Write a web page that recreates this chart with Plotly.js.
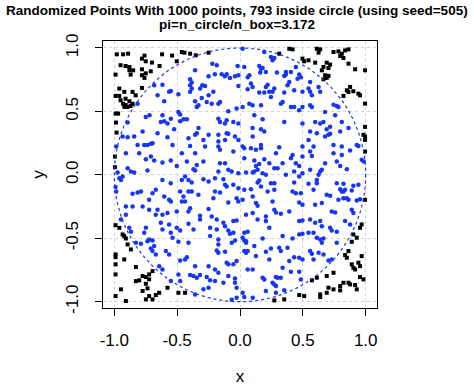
<!DOCTYPE html>
<html><head><meta charset="utf-8">
<script src="https://cdn.plot.ly/plotly-3.0.1.min.js"></script>
<style>html,body{margin:0;padding:0;background:#fff}#chart{width:474px;height:391px}</style>
</head><body><div id="chart"></div>
<script>
// Points outside the unit circle (black squares)
var outX = [-0.98,-0.93,-0.89,-0.76,-0.62,-0.54,-0.78,-0.95,-0.91,-0.88,-0.75,-0.70,-0.64,-0.88,-0.85,-0.78,-0.71,-0.99,-0.87,-0.78,-0.75,-0.76,-0.96,-0.78,-0.92,-0.855,-0.99,-0.96,-0.83,-0.95,-0.91,-0.88,-0.93,-0.91,-0.855,-0.92,-0.895,-0.87,-0.99,-0.97,-0.987,
 -0.503,-0.463,-0.442,-0.397,-0.352,-0.25,
 0.312,0.392,0.418,0.497,0.51,
 0.611,0.638,0.625,0.744,0.783,0.81,0.836,0.863,0.797,0.823,0.545,0.598,0.69,0.717,0.664,0.704,0.651,0.863,0.916,0.995,0.677,0.69,0.664,0.704,0.876,0.85,0.863,0.902,0.942,0.955,0.823,0.995,0.995,
 -0.982,-0.995,-0.995,
 0.982,0.995,0.995,0.995,0.995,
 -0.99,-0.96,-0.934,-0.921,-0.908,-0.894,-0.868,-0.99,-0.99,-0.921,-0.99,-0.828,-0.696,-0.723,-0.99,-0.775,-0.749,-0.723,-0.828,-0.802,-0.749,-0.736,-0.947,-0.775,-0.577,-0.67,-0.643,-0.723,-0.99,-0.749,-0.696,-0.908,
 -0.49,-0.437,
 0.273,0.352,0.471,0.511,
 0.968,0.955,0.902,0.929,0.889,0.863,0.836,0.85,0.968,0.889,0.902,0.916,0.942,0.955,0.744,0.69,0.611,0.572,0.955,0.982,0.823,0.863,0.876,0.916,0.797,0.704,0.744,0.797,0.929,0.69,0.638,0.638];
var outY = [0.95,0.95,0.955,0.94,0.95,0.94,0.916,0.864,0.858,0.85,0.895,0.885,0.858,0.824,0.824,0.832,0.816,0.79,0.79,0.785,0.80,0.764,0.68,0.685,0.654,0.654,0.622,0.622,0.627,0.588,0.60,0.58,0.56,0.55,0.56,0.535,0.535,0.543,0.483,0.483,0.412,
 0.895,0.968,0.963,0.955,0.942,0.963,
 0.955,0.994,0.989,0.916,0.895,
 0.994,0.989,0.963,0.968,0.973,0.955,0.981,0.989,0.937,0.921,0.903,0.884,0.884,0.869,0.85,0.842,0.824,0.876,0.832,0.824,0.785,0.764,0.753,0.78,0.693,0.666,0.654,0.659,0.64,0.627,0.622,0.561,0.378,
 0.333,0.144,0.06,
 0.315,0.302,0.275,0.183,-0.197,
 -0.397,-0.418,-0.47,-0.483,-0.502,-0.549,-0.588,-0.628,-0.649,-0.667,-0.706,-0.727,-0.759,-0.785,-0.785,-0.798,-0.806,-0.824,-0.838,-0.832,-0.859,-0.895,-0.903,-0.916,-0.89,-0.948,-0.93,-0.956,-0.956,-0.982,-0.982,-0.995,
 -0.93,-0.93,
 -0.99,-0.982,-0.948,-0.956,
 -0.391,-0.418,-0.47,-0.496,-0.528,-0.601,-0.633,-0.654,-0.641,-0.706,-0.733,-0.746,-0.693,-0.72,-0.772,-0.798,-0.811,-0.832,-0.806,-0.824,-0.851,-0.851,-0.864,-0.869,-0.877,-0.89,-0.903,-0.911,-0.903,-0.93,-0.943,-0.964];

// Points inside the unit circle (blue dots)
var inX = [-0.683,-0.617,-0.55,-0.656,-0.564,-0.603,-0.815,-0.72,-0.75,-0.617,-0.63,-0.603,-0.577,-0.55,-0.894,-0.524,
 -0.357,-0.22,-0.185,-0.019,-0.25,-0.20,-0.146,-0.12,-0.106,-0.04,-0.013,-0.08,-0.397,-0.384,-0.397,-0.384,-0.30,-0.278,-0.317,-0.013,-0.397,-0.49,-0.212,-0.25,-0.305,-0.357,-0.265,-0.225,-0.172,-0.159,-0.344,-0.331,-0.49,-0.476,-0.45,-0.423,-0.476,-0.027,-0.093,-0.172,-0.159,-0.12,-0.106,-0.053,-0.013,-0.33,
 0.021,0.193,0.246,0.259,0.273,0.034,0.153,0.167,0.18,0.206,0.161,0.294,0.074,0.061,0.365,0.405,0.365,0.352,0.444,0.471,0.458,0.484,0.392,0.378,0.087,0.10,0.061,0.22,0.206,0.273,0.259,0.233,0.153,0.193,0.352,0.431,0.497,0.246,0.339,0.325,0.074,0.10,0.021,0.167,0.405,0.431,0.497,0.471,0.114,0.18,0.352,0.497,0.10,0.167,
 0.558,0.625,0.545,0.558,0.638,0.572,0.558,0.572,0.744,0.77,0.783,0.677,0.757,0.598,0.638,0.664,0.717,0.81,0.863,0.69,
 -0.934,-0.894,-0.842,-0.775,-0.656,-0.577,-0.985,-0.815,-0.762,-0.736,-0.709,-0.696,-0.537,-0.908,-0.802,-0.709,-0.749,-0.683,-0.617,-0.551,-0.894,-0.868,-0.842,-0.974,-0.96,-0.947,-0.934,-0.736,-0.617,-0.551,-0.99,-0.855,-0.815,-0.788,-0.696,-0.67,-0.985,-0.603,-0.564,-0.55,-0.723,-0.775,-0.908,-0.855,-0.723,-0.656,-0.617,-0.67,-0.577,-0.908,
 -0.41,-0.357,-0.344,-0.25,-0.172,-0.106,-0.093,-0.04,-0.013,-0.291,-0.172,-0.119,-0.397,-0.278,-0.172,-0.159,-0.463,-0.357,-0.053,-0.423,-0.344,-0.291,-0.159,-0.119,-0.503,-0.37,-0.357,-0.172,-0.093,-0.066,-0.013,-0.437,-0.41,-0.463,-0.384,-0.291,-0.25,-0.199,-0.132,-0.119,-0.106,-0.053,-0.013,-0.476,-0.41,-0.384,-0.199,-0.159,-0.45,-0.331,-0.212,-0.463,-0.437,-0.093,-0.027,-0.013,-0.397,-0.41,-0.25,-0.503,-0.318,-0.225,
 0.101,0.193,0.021,0.034,0.087,0.127,0.167,0.167,0.312,0.418,0.405,0.286,0.497,0.497,0.034,0.114,0.193,0.153,0.127,0.233,0.339,0.444,0.471,0.048,0.101,0.114,0.14,0.18,0.206,0.273,0.299,0.365,0.431,0.497,0.153,0.14,0.471,0.431,0.246,0.273,0.167,0.034,0.087,0.22,0.273,0.418,0.444,0.484,0.101,0.021,0.259,0.127,0.14,0.471,0.497,0.273,0.286,0.392,0.048,0.101,0.206,0.325,
 0.558,0.611,0.677,0.704,0.717,0.797,0.545,0.585,0.744,0.81,0.876,0.929,0.942,0.744,0.558,0.572,0.81,0.77,0.677,0.797,0.968,0.985,0.651,0.638,0.625,0.558,0.611,0.85,0.611,0.545,0.77,0.823,0.902,0.942,0.797,0.81,0.823,0.836,0.889,0.585,0.69,0.717,0.783,0.823,0.85,0.863,0.929,0.955,0.598,0.651,0.73,0.757,0.889,0.902,
 -0.947,-0.881,-0.868,-0.828,-0.788,-0.736,-0.723,-0.696,-0.683,-0.709,-0.696,-0.67,-0.762,-0.749,-0.63,-0.617,-0.564,-0.551,-0.537,-0.59,-0.564,-0.643,-0.617,-0.55,
 -0.41,-0.318,-0.185,-0.132,-0.053,-0.027,-0.503,-0.476,-0.37,-0.238,-0.185,-0.119,-0.093,-0.08,-0.053,-0.49,-0.41,-0.238,-0.172,-0.172,-0.066,-0.04,-0.185,-0.172,-0.119,-0.423,-0.437,-0.476,-0.106,-0.093,-0.357,-0.25,-0.199,-0.172,-0.053,-0.027,-0.49,-0.397,-0.37,-0.344,-0.318,-0.265,-0.238,-0.093,-0.04,-0.476,-0.199,-0.132,-0.04,-0.027,-0.291,-0.25,-0.357,-0.027,-0.066,
 0.14,0.206,0.471,0.497,0.233,0.034,0.061,0.021,0.034,0.048,0.048,0.18,0.339,0.471,0.497,0.418,0.114,0.246,0.312,0.325,0.378,0.034,0.048,0.061,0.206,0.127,0.233,0.392,0.431,0.471,0.497,0.061,0.101,0.339,0.405,0.471,0.18,0.193,0.286,0.299,0.325,0.484,0.259,0.273,0.286,0.206,0.286,0.352,0.021,0.034,0.101,
 0.558,0.598,0.638,0.651,0.545,0.585,0.717,0.73,0.77,0.836,0.876,0.611,0.638,0.664,0.651,0.77,0.558,0.572,0.625,0.664,0.704,0.73,0.585];
var inY = [0.706,0.71,0.66,0.627,0.654,0.58,0.56,0.47,0.456,0.47,0.417,0.422,0.404,0.443,0.412,0.36,
 0.824,0.876,0.863,0.858,0.777,0.792,0.792,0.777,0.792,0.777,0.785,0.764,0.753,0.727,0.706,0.68,0.706,0.70,0.68,0.70,0.654,0.635,0.654,0.627,0.606,0.58,0.575,0.56,0.56,0.575,0.535,0.548,0.496,0.475,0.438,0.438,0.422,0.522,0.501,0.443,0.417,0.404,0.43,0.417,0.404,0.37,
 0.994,0.968,0.929,0.903,0.92,0.85,0.858,0.837,0.842,0.811,0.806,0.806,0.785,0.77,0.811,0.811,0.79,0.78,0.85,0.79,0.758,0.77,0.732,0.706,0.72,0.693,0.674,0.711,0.693,0.68,0.654,0.654,0.648,0.648,0.648,0.666,0.654,0.614,0.575,0.561,0.561,0.548,0.535,0.548,0.535,0.535,0.535,0.509,0.47,0.438,0.417,0.404,0.37,0.36,
 0.732,0.693,0.68,0.654,0.654,0.627,0.548,0.535,0.553,0.543,0.535,0.496,0.47,0.417,0.404,0.417,0.378,0.417,0.37,0.36,
 0.302,0.296,0.302,0.341,0.328,0.296,0.223,0.236,0.236,0.236,0.244,0.249,0.236,0.17,0.17,0.144,0.123,0.113,0.097,0.113,0.052,0.026,0.018,0.018,-0.027,-0.04,-0.013,0.034,-0.04,-0.066,-0.097,-0.15,-0.139,-0.132,-0.145,-0.118,-0.132,-0.171,-0.197,-0.21,-0.197,-0.25,-0.25,-0.25,-0.276,-0.276,-0.315,-0.315,-0.302,-0.315,
 0.288,0.315,0.328,0.315,0.315,0.328,0.323,0.302,0.275,0.275,0.262,0.275,0.228,0.223,0.223,0.197,0.17,0.17,0.183,0.105,0.078,0.105,0.092,0.092,0.07,0.044,0.034,0.026,0.039,0.026,0.013,-0.013,-0.04,-0.04,-0.061,-0.034,-0.053,-0.027,-0.034,-0.079,-0.092,-0.079,-0.105,-0.132,-0.132,-0.132,-0.132,-0.139,-0.171,-0.158,-0.184,-0.21,-0.21,-0.218,-0.184,-0.21,-0.263,-0.289,-0.27,-0.289,-0.323,-0.328,
 0.302,0.341,0.223,0.21,0.21,0.197,0.236,0.21,0.217,0.157,0.131,0.17,0.223,0.144,0.131,0.113,0.123,0.086,0.07,0.092,0.092,0.092,0.07,0.018,0.018,0.026,0.039,0.013,0.0,0.052,0.052,0.0,0.026,0.013,-0.045,-0.061,-0.013,-0.061,-0.066,-0.066,-0.092,-0.118,-0.113,-0.132,-0.118,-0.132,-0.145,-0.145,-0.171,-0.197,-0.21,-0.223,-0.244,-0.218,-0.236,-0.276,-0.297,-0.289,-0.315,-0.302,-0.328,-0.307,
 0.341,0.328,0.302,0.315,0.323,0.341,0.275,0.223,0.236,0.223,0.191,0.236,0.228,0.17,0.183,0.149,0.157,0.105,0.092,0.07,0.118,0.105,0.039,0.026,0.0,0.039,-0.04,0.044,-0.066,-0.071,-0.066,-0.071,-0.087,-0.079,-0.113,-0.132,-0.132,-0.118,-0.124,-0.118,-0.158,-0.166,-0.197,-0.184,-0.184,-0.197,-0.202,-0.192,-0.236,-0.223,-0.289,-0.297,-0.276,-0.302,
 -0.352,-0.418,-0.449,-0.536,-0.544,-0.523,-0.51,-0.518,-0.562,-0.58,-0.601,-0.628,-0.457,-0.418,-0.378,-0.431,-0.391,-0.457,-0.496,-0.601,-0.628,-0.72,-0.746,-0.838,
 -0.386,-0.352,-0.352,-0.378,-0.365,-0.36,-0.418,-0.439,-0.431,-0.418,-0.431,-0.405,-0.439,-0.465,-0.457,-0.528,-0.536,-0.483,-0.51,-0.549,-0.536,-0.518,-0.596,-0.614,-0.607,-0.649,-0.667,-0.675,-0.693,-0.706,-0.72,-0.72,-0.746,-0.772,-0.706,-0.68,-0.785,-0.79,-0.798,-0.811,-0.79,-0.806,-0.832,-0.798,-0.817,-0.838,-0.838,-0.851,-0.851,-0.89,-0.903,-0.89,-0.943,-0.969,-0.985,
 -0.352,-0.365,-0.365,-0.36,-0.418,-0.457,-0.449,-0.496,-0.518,-0.523,-0.536,-0.502,-0.483,-0.47,-0.465,-0.502,-0.562,-0.58,-0.575,-0.601,-0.575,-0.601,-0.614,-0.601,-0.607,-0.641,-0.667,-0.68,-0.649,-0.654,-0.667,-0.746,-0.746,-0.733,-0.764,-0.764,-0.811,-0.825,-0.806,-0.811,-0.811,-0.825,-0.851,-0.864,-0.877,-0.916,-0.93,-0.911,-0.93,-0.964,-0.969,
 -0.352,-0.378,-0.365,-0.405,-0.457,-0.457,-0.418,-0.439,-0.449,-0.365,-0.391,-0.496,-0.51,-0.502,-0.536,-0.536,-0.601,-0.622,-0.614,-0.628,-0.675,-0.667,-0.667];

var tickVals = [-1.0, -0.5, 0.0, 0.5, 1.0];
var tickText = ["-1.0", "-0.5", "0.0", "0.5", "1.0"];
var titleLine1 = "Randomized Points With 1000 points, 793 inside circle (using seed=505)";
var titleLine2 = "pi=n_circle/n_box=3.172";

var font = "Liberation Sans, Arial, Helvetica, sans-serif";
var blue = "#1636f2";
var traces = [
  {x: outX, y: outY, type: "scatter", mode: "markers", hoverinfo: "skip",
   marker: {symbol: "square", size: 4, color: "#000000"}},
  {x: inX, y: inY, type: "scatter", mode: "markers", hoverinfo: "skip",
   marker: {symbol: "circle", size: 4.5, color: blue}}
];
var axisCommon = {
  tickvals: tickVals, ticktext: tickText, ticks: "outside", ticklen: 7, tickwidth: 1,
  tickcolor: "#000", showline: true, linecolor: "#000", linewidth: 1, mirror: true,
  showgrid: true, gridcolor: "#d3d3d3", griddash: "dot", gridwidth: 1, zeroline: false,
  tickfont: {family: font, size: 17, color: "#000"}
};
var layout = {
  width: 474, height: 391,
  margin: {l: 103, r: 97, t: 41, b: 83},
  paper_bgcolor: "#fff", plot_bgcolor: "#fff",
  showlegend: false,
  annotations: [
    {text: "<b>" + titleLine1 + "</b>", xref: "paper", yref: "paper", x: 0.489, y: 1.116,
     xanchor: "center", yanchor: "middle", showarrow: false, font: {family: font, size: 13.5, color: "#000"}},
    {text: "<b>" + titleLine2 + "</b>", xref: "paper", yref: "paper", x: 0.489, y: 1.06,
     xanchor: "center", yanchor: "middle", showarrow: false, font: {family: font, size: 13.5, color: "#000"}}
  ],
  xaxis: Object.assign({}, axisCommon, {range: [-1.09, 1.09], ticklabelstandoff: 10,
          title: {text: "x", font: {family: font, size: 17, color: "#000"}, standoff: 20}}),
  yaxis: Object.assign({}, axisCommon, {range: [-1.05, 1.055], tickangle: -90, ticklabelstandoff: 10,
          title: {text: "y", font: {family: font, size: 17, color: "#000"}, standoff: 14}}),
  shapes: [{type: "circle", xref: "x", yref: "y", x0: -1, x1: 1, y0: -1, y1: 1,
            line: {color: blue, width: 1.2, dash: "dot"}, layer: "above"}]
};
Plotly.newPlot("chart", traces, layout, {staticPlot: true, displayModeBar: false});
</script></body></html>
